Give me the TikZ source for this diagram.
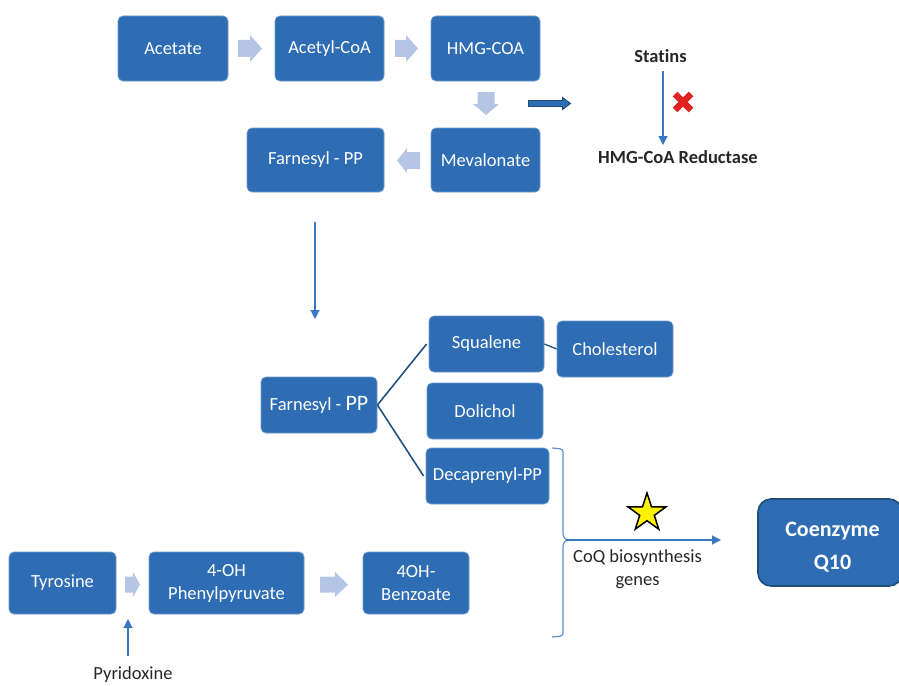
\documentclass[tikz,border=0pt]{standalone}
\usepackage{fontspec}
\setmainfont{Carlito}[Ligatures=NoCommon]
\usetikzlibrary{shapes.geometric,arrows.meta}
\definecolor{boxblue}{HTML}{2E6DB4}
\definecolor{lightarr}{HTML}{B4C5E6}
\definecolor{darkline}{HTML}{1F4E79}
\definecolor{conblue}{HTML}{3A78C0}
\definecolor{brkblue}{HTML}{5B8FCF}
\definecolor{txtdark}{HTML}{262626}
\definecolor{xred}{HTML}{E02424}
\tikzset{
  box/.style={rectangle, rounded corners=5pt, fill=boxblue, draw=boxblue!70!white, line width=0.8pt,
    text=white, font=\fontsize{18.5}{23}\selectfont, align=center, inner sep=0pt},
  blkfill/.style={fill=lightarr},
  conn/.style={draw=conblue, line width=1.1pt, -{Triangle[width=9pt,length=9pt]}},
  lbl/.style={text=txtdark, font=\fontsize{18.5}{23}\selectfont, align=center, inner sep=0pt},
  branch/.style={draw=darkline!85!boxblue, line width=1.6pt},
}
% #1 style, #2 x, #3 y, #4 rotate, #5 length, #6 breadth, #7 shaft, #8 head length
\newcommand\blockarr[8]{%
  \path[#1, shift={(#2,#3)}, rotate=#4]
    ({-#5/2},{-#7/2}) -- ({#5/2-#8},{-#7/2}) -- ({#5/2-#8},{-#6/2}) -- ({#5/2},0)
    -- ({#5/2-#8},{#6/2}) -- ({#5/2-#8},{#7/2}) -- ({-#5/2},{#7/2}) -- cycle;}
\begin{document}
\begin{tikzpicture}[x=1pt,y=-1pt]
\useasboundingbox (0,0) rectangle (899,685);
% top row
\node[box, minimum width=110pt, minimum height=65pt] (acetate) at (173,48.5) {Acetate};
\node[box, minimum width=109pt, minimum height=65pt] (acetyl) at (329.5,48.5) {Acetyl-CoA};
\node[box, minimum width=109pt, minimum height=65pt] (hmg) at (485.5,48.5) {HMG-COA};
\node[box, minimum width=137pt, minimum height=64pt] (farn1) at (315.5,160) {Farnesyl - PP};
\node[box, minimum width=109pt, minimum height=64pt] (meva) at (485.5,160) {Mevalonate};
% block arrows
\blockarr{blkfill}{250}{48.5}{0}{24}{27}{17}{12}
\blockarr{blkfill}{406.5}{48.5}{0}{23}{27}{17}{12}
\blockarr{blkfill}{486}{103.5}{-90}{23}{26}{17}{11}
\blockarr{blkfill}{408.5}{160.5}{180}{23}{25}{17}{10}
% dark arrow
\blockarr{fill=boxblue, draw=darkline, line width=0.9pt}{549.5}{103.5}{0}{42}{12}{6}{8}
% statins
\node[lbl, font=\bfseries\fontsize{18.5}{23}\selectfont] (statins) at (660.5,56) {Statins};
\node[lbl, font=\bfseries\fontsize{18.5}{23}\selectfont] (hmgr) at (678,157) {HMG-CoA Reductase};
\coordinate (s1) at (663,71);
\coordinate (s2) at (663,145);
\draw[conn] (s1) -- (s2);
\draw[xred, line width=6.5pt] (675,94) -- (691,110) (691,94) -- (675,110);
% farnesyl down
\coordinate (fv1) at (315,222);
\coordinate (fv2) at (315,319);
\draw[conn] (fv1) -- (fv2);
% middle
\node[box, minimum width=116pt, minimum height=56pt] (farn2) at (319,405) {Farnesyl - {\fontsize{22}{23}\selectfont PP}};
\node[box, minimum width=115pt, minimum height=56pt] (squal) at (486.5,344) {Squalene};
\node[box, minimum width=116pt, minimum height=56pt] (chol) at (615,349) {Cholesterol};
\node[box, minimum width=116pt, minimum height=56pt] (doli) at (485,411) {Dolichol};
\node[box, minimum width=123pt, minimum height=56pt] (deca) at (487.5,476) {Decaprenyl-PP};
\draw[branch] (farn2.east) -- ([xshift=-2pt]squal.west);
\draw[branch] (farn2.east) -- ([xshift=-2pt]deca.west);
\draw[branch, line width=1.3pt] (squal.east) -- (chol.west);
% bracket
\draw[brkblue, line width=1.2pt, rounded corners=3pt] (552,448) -- (563,449) -- (563,537) -- (567,540);
\draw[brkblue, line width=1.2pt, rounded corners=3pt] (567,540) -- (563,543) -- (563,636) -- (552,637);
\coordinate (brtip) at (566,540);
\coordinate (coqend) at (721,540);
\draw[conn] (brtip) -- (coqend);
\node[star, star points=5, star point ratio=2.6, minimum size=40pt, inner sep=0pt,
  fill=yellow, draw=black, line width=1.5pt] (star) at (647,513) {};
\node[lbl] (coqtxt) at (637.5,569) {CoQ biosynthesis\\genes};
\node[box, rounded corners=13pt, draw=darkline, line width=1.6pt, minimum width=144pt, minimum height=87pt] (coq) at (830,542.5) {};
\node[text=white, align=center, inner sep=0pt, font=\bfseries\fontsize{22}{33}\selectfont] (coqlbl) at (832.5,547) {Coenzyme\\Q10};
% bottom row
\node[box, minimum width=107pt, minimum height=62pt] (tyr) at (62.5,583) {Tyrosine};
\node[box, minimum width=155pt, minimum height=62pt] (php) at (226.5,583) {4-OH\\Phenylpyruvate};
\node[box, minimum width=106pt, minimum height=62pt] (benz) at (416,583) {4OH-\\Benzoate};
\blockarr{blkfill}{132.5}{584.5}{0}{15}{25}{16}{7}
\blockarr{blkfill}{334}{584.5}{0}{28}{25}{16}{13}
\node[lbl] (pyr) at (133,675) {Pyridoxine};
\coordinate (p1) at (128,656);
\coordinate (p2) at (128,619);
\draw[conn] (p1) -- (p2);
\end{tikzpicture}
\end{document}
